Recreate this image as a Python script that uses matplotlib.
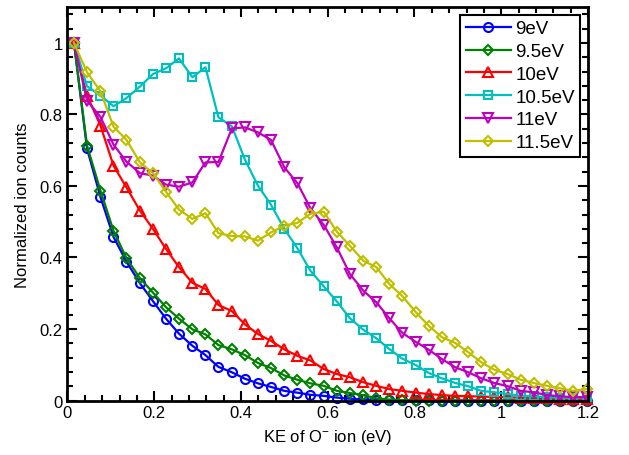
import matplotlib
matplotlib.use("Agg")
import matplotlib.pyplot as plt
from matplotlib.ticker import AutoMinorLocator, FixedLocator, FuncFormatter

plt.rcParams['font.family'] = ['Liberation Sans', 'DejaVu Sans']
plt.rcParams['mathtext.fontset'] = 'custom'
plt.rcParams['mathtext.rm'] = 'Liberation Sans'
plt.rcParams['mathtext.it'] = 'Liberation Sans:italic'

ke = [0.015, 0.045, 0.076, 0.106, 0.136, 0.167, 0.197, 0.227, 0.257, 0.288,
      0.318, 0.348, 0.379, 0.409, 0.439, 0.469, 0.500, 0.530, 0.560, 0.591,
      0.621, 0.651, 0.682, 0.712, 0.742, 0.772, 0.803, 0.833, 0.863, 0.894,
      0.924, 0.954, 0.984, 1.015, 1.045, 1.075, 1.106, 1.136, 1.166, 1.197]

e9 = [1.0, 0.705, 0.569, 0.458, 0.388, 0.328, 0.278, 0.229, 0.187, 0.153,
      0.127, 0.094, 0.079, 0.061, 0.048, 0.038, 0.027, 0.022, 0.016, 0.013,
      0.008, 0.005, 0.003, 0.002, 0.002, 0.001, 0.001, 0.001, 0.0, 0.0,
      0.0, 0.0, 0.0, 0.0, 0.0, 0.0, 0.0, 0.0, 0.0, 0.0]

e95 = [1.0, 0.713, 0.587, 0.475, 0.398, 0.342, 0.302, 0.261, 0.229, 0.199,
       0.185, 0.155, 0.143, 0.127, 0.105, 0.091, 0.070, 0.058, 0.048, 0.041,
       0.027, 0.021, 0.015, 0.006, 0.002, 0.001, 0.0, 0.0, 0.0, 0.0,
       0.0, 0.0, 0.0, 0.0, 0.0, 0.0, 0.0, 0.0, 0.0, 0.0]

e10 = [1.0, 0.853, 0.769, 0.657, 0.596, 0.531, 0.480, 0.424, 0.373, 0.329,
       0.312, 0.267, 0.250, 0.213, 0.186, 0.167, 0.143, 0.125, 0.112, 0.088,
       0.074, 0.065, 0.051, 0.041, 0.032, 0.027, 0.022, 0.018, 0.015, 0.013,
       0.012, 0.011, 0.010, 0.009, 0.008, 0.007, 0.006, 0.005, 0.005, 0.004]

e105 = [1.0, 0.879, 0.853, 0.823, 0.846, 0.878, 0.913, 0.929, 0.957, 0.904,
        0.932, 0.792, 0.767, 0.674, 0.601, 0.548, 0.480, 0.426, 0.363, 0.319,
        0.277, 0.230, 0.198, 0.174, 0.144, 0.117, 0.099, 0.077, 0.062, 0.049,
        0.040, 0.027, 0.023, 0.018, 0.013, 0.012, 0.009, 0.008, 0.007, 0.009]

e11 = [1.0, 0.839, 0.793, 0.716, 0.668, 0.636, 0.629, 0.604, 0.598, 0.610,
       0.666, 0.667, 0.761, 0.764, 0.750, 0.729, 0.652, 0.608, 0.538, 0.491,
       0.428, 0.354, 0.307, 0.275, 0.230, 0.189, 0.164, 0.142, 0.116, 0.093,
       0.079, 0.062, 0.049, 0.040, 0.027, 0.023, 0.015, 0.012, 0.009, 0.010]

e115 = [1.0, 0.918, 0.865, 0.766, 0.729, 0.666, 0.636, 0.584, 0.534, 0.508,
        0.524, 0.468, 0.460, 0.459, 0.447, 0.470, 0.489, 0.497, 0.522, 0.528,
        0.472, 0.433, 0.391, 0.373, 0.326, 0.292, 0.247, 0.209, 0.177, 0.161,
        0.135, 0.107, 0.086, 0.074, 0.058, 0.049, 0.041, 0.034, 0.027, 0.032]

labels = ['9eV', '9.5eV', '10eV', '10.5eV', '11eV', '11.5eV']
series = [e9, e95, e10, e105, e11, e115]
colors = ['#0000ff', '#008000', '#ff0000', '#00bfbf', '#bf00bf', '#bfbf00']
markers = ['o', 'D', '^', 's', 'v', 'D']
msizes = [6.5, 5.5, 7.5, 6, 7.5, 5.5]

fig = plt.figure(figsize=(6.29, 4.56), dpi=100)
ax = fig.add_axes([0.1073, 0.1195, 0.8275, 0.8625])

for y, lab, c, m, ms in zip(series, labels, colors, markers, msizes):
    ax.plot(ke, y, color=c, marker=m, markersize=ms, markerfacecolor='none',
            markeredgecolor=c, markeredgewidth=1.5, linewidth=1.6,
            label=lab, clip_on=False)

ax.set_xlim(0, 1.2)
ax.set_ylim(0, 1.1)
ax.xaxis.set_major_locator(FixedLocator([0, 0.2, 0.4, 0.6, 0.8, 1.0, 1.2]))
ax.yaxis.set_major_locator(FixedLocator([0, 0.2, 0.4, 0.6, 0.8, 1.0]))
fmt = FuncFormatter(lambda v, p: ('%g' % round(v, 2)))
ax.xaxis.set_major_formatter(fmt)
ax.yaxis.set_major_formatter(fmt)
ax.xaxis.set_minor_locator(AutoMinorLocator(5))
ax.yaxis.set_minor_locator(AutoMinorLocator(5))
ax.tick_params(which='both', direction='in', top=True, right=True,
               width=1.5, labelsize=12)
ax.tick_params(which='major', length=7)
ax.tick_params(which='minor', length=4)
for s in ax.spines.values():
    s.set_linewidth(2)
    s.set_zorder(5)

ax.set_xlabel('KE of O$^{-}$ ion (eV)', fontsize=12, labelpad=5)
ax.set_ylabel('Normalized ion counts', fontsize=12, labelpad=7)

leg = ax.legend(loc='upper right', fontsize=13.5, frameon=True, fancybox=False,
                edgecolor='black', framealpha=1, borderpad=0.3,
                labelspacing=0.3, handlelength=2.4, handletextpad=0.25,
                borderaxespad=0.4)
leg.get_frame().set_linewidth(1.5)

fig.savefig('out.png', dpi=100)
